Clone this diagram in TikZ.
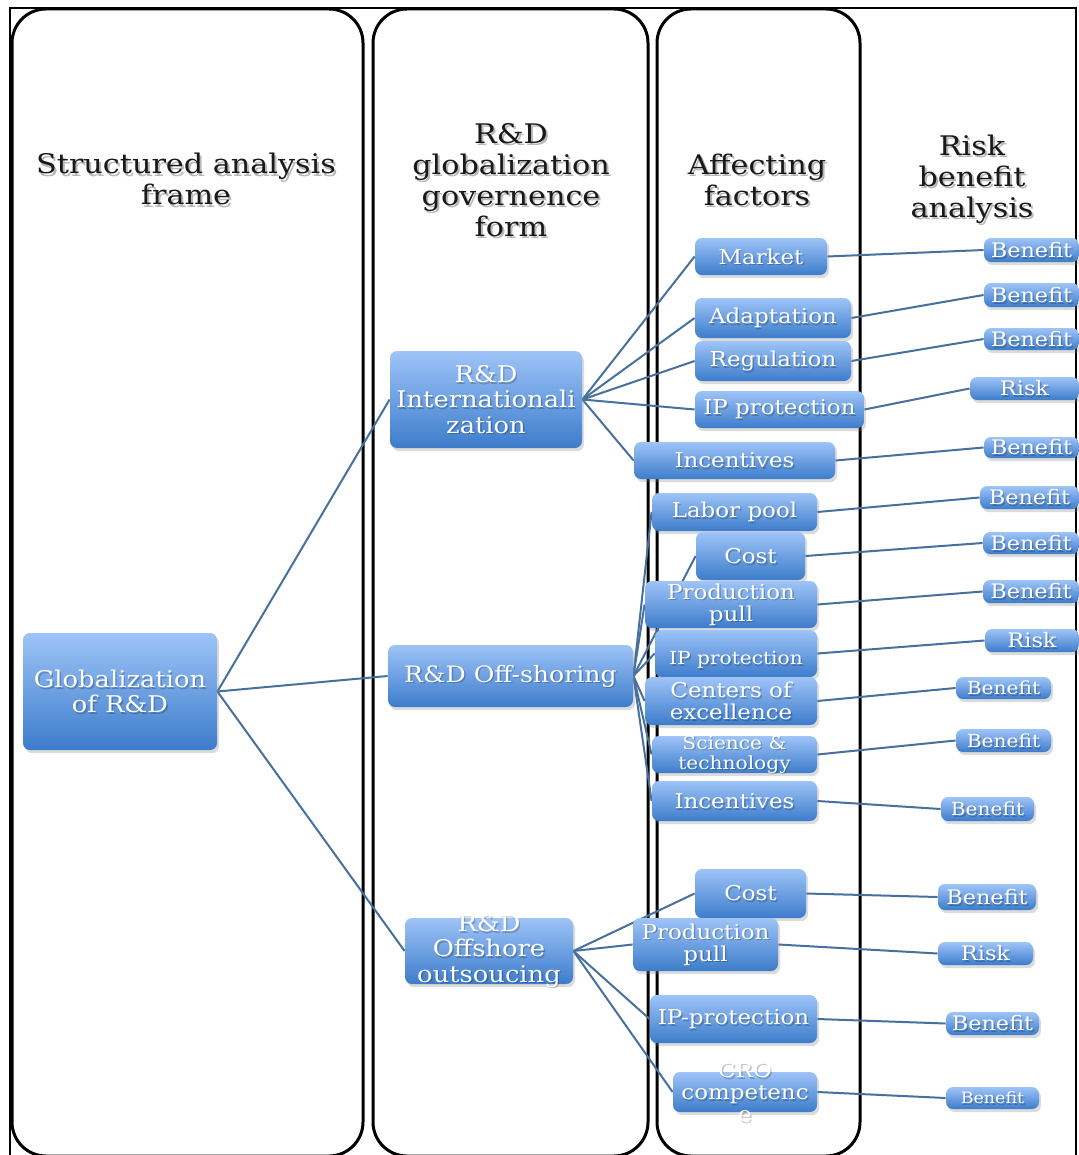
\documentclass[tikz,border=0pt]{standalone}
\usepackage{fontspec}
\setmainfont{DejaVu Serif}[FakeStretch=1.12]
\usetikzlibrary{shadows,backgrounds}
\definecolor{ctop}{HTML}{9EC4F8}
\definecolor{cbot}{HTML}{3D7CCB}
\definecolor{lnk}{HTML}{46719F}
\tikzset{
  boxst/.style={rectangle, rounded corners=3.5pt, inner sep=0pt, top color=ctop, bottom color=cbot, draw=none,
    drop shadow={opacity=0.28, shadow xshift=1pt, shadow yshift=-1.6pt}},
  lbl/.style={text=white, align=center, inner sep=0pt},
  lblsh/.style={text=black, text opacity=0.22, align=center, inner sep=0pt},
  link/.style={draw=lnk, line width=1pt},
  colbox/.style={draw=black, line width=1.5pt, rounded corners=17pt},
  hdr/.style={align=center, inner sep=0pt, font=\fontsize{13.5}{15.5}\selectfont},
  fglob/.style={font=\fontsize{11.5}{12.5}\selectfont},
  fint/.style={font=\fontsize{11.5}{12.6}\selectfont},
  foff/.style={font=\fontsize{11.25}{12.5}\selectfont},
  ff/.style={font=\fontsize{10.25}{11}\selectfont},
  fs/.style={font=\fontsize{9}{10}\selectfont},
  fb/.style={font=\fontsize{10}{11}\selectfont},
  fbs/.style={font=\fontsize{9}{10}\selectfont},
  fbt/.style={font=\fontsize{7.8}{9}\selectfont}
}
\newcommand\bx[7][]{%
  \pgfmathsetmacro\bw{(#5-#3)*0.5}%
  \pgfmathsetmacro\bh{(#6-#4)*0.5}%
  \node[boxst,minimum width=\bw pt,minimum height=\bh pt] (#2) at ({(#3+#5)/2},{(#4+#6)/2}) {};
  \node[lblsh,#1] (#2-s) at ([xshift=0.7pt,yshift=-0.9pt]#2.center) {#7};
  \node[lbl,#1] (#2-t) at (#2.center) {#7};}
\newcommand\hd[4]{%
  \node[hdr,text=black!28] (#1-s) at ([xshift=1pt,yshift=-1.3pt]#2,#3) {#4};
  \node[hdr,text=black!90] (#1) at (#2,#3) {#4};}
\begin{document}
\begin{tikzpicture}[x=0.5pt,y=-0.5pt]
\useasboundingbox (0,0) rectangle (1078,1155);
% frames
\begin{pgfonlayer}{background}
\fill[white] (0,0) rectangle (1078,1155);
\draw[line width=1pt] (10,1170) -- (10,8) -- (1076,8) -- (1076,1170);
\draw[colbox] (12,9) rectangle (363,1156);
\draw[colbox] (373,9) rectangle (648,1156);
\draw[colbox] (657,9) rectangle (860,1156);
\end{pgfonlayer}
% headers
\hd{h1}{186}{179}{Structured analysis\\frame}
\hd{h2}{511}{180}{R\&D\\globalization\\governence\\form}
\hd{h3}{757}{179.5}{Affecting\\factors}
\hd{h4}{972}{179}{Risk\\benefit\\analysis}
% main nodes
\bx[fglob]{glob}{23}{633}{217}{750}{Globalization\\of R\&D}
\bx[fint]{int}{390}{351}{582}{448}{R\&D\\Internationali\\zation}
\bx[foff]{off}{388}{645}{633}{707}{R\&D Off-shoring}
\bx[fint]{outs}{405}{918}{573}{984}{R\&D\\Offshore\\outsoucing}
% group 1 factors
\bx[ff]{a1}{695}{238}{827}{275}{Market}
\bx[ff]{a2}{695}{298}{851}{338}{Adaptation}
\bx[ff]{a3}{695}{341}{851}{381}{Regulation}
\bx[ff]{a4}{695}{391}{864}{428}{IP protection}
\bx[ff]{a5}{634}{442}{835}{479}{Incentives}
% group 1 results
\bx[fb]{r1}{984}{238}{1079}{262}{Benefit}
\bx[fb]{r2}{984}{283}{1079}{307}{Benefit}
\bx[fb]{r3}{984}{328}{1079}{350}{Benefit}
\bx[fb]{r4}{970}{377}{1079}{400}{Risk}
\bx[fb]{r5}{984}{437}{1079}{458}{Benefit}
% group 2 factors
\bx[ff]{b1}{652}{493}{817}{531}{Labor pool}
\bx[ff]{b2}{696}{532}{805}{580}{Cost}
\bx[ff]{b3}{645}{581}{817}{628}{Production\\pull}
\bx[fs,yshift=-3.2pt]{b4}{655}{630}{817}{677}{IP protection}
\bx[ff]{b5}{645}{677}{817}{725}{Centers of\\excellence}
\bx[fs]{b6}{652}{736}{817}{773}{Science \&\\technology}
\bx[ff]{b7}{652}{781}{817}{821}{Incentives}
% group 2 results
\bx[fb]{s1}{980}{486}{1079}{509}{Benefit}
\bx[fb]{s2}{983}{532}{1079}{554}{Benefit}
\bx[fb]{s3}{983}{580}{1079}{603}{Benefit}
\bx[fb]{s4}{985}{629}{1079}{652}{Risk}
\bx[fbs]{s5}{956}{677}{1051}{699}{Benefit}
\bx[fbs]{s6}{956}{729}{1051}{752}{Benefit}
\bx[fbs]{s7}{941}{797}{1034}{821}{Benefit}
% group 3 factors
\bx[ff]{c1}{695}{869}{806}{918}{Cost}
\bx[ff]{c2}{633}{918}{778}{971}{Production\\pull}
\bx[ff]{c3}{650}{995}{817}{1043}{IP-protection}
\bx[ff]{c4}{673}{1072}{817}{1112}{CRO\\competenc\\e}
% group 3 results
\bx[fb]{t1}{938}{884}{1036}{910}{Benefit}
\bx[fb]{t2}{938}{942}{1033}{965}{Risk}
\bx[fb]{t3}{946}{1012}{1039}{1035}{Benefit}
\bx[fbt]{t4}{946}{1087}{1039}{1109}{Benefit}
% connectors
\begin{pgfonlayer}{background}
\foreach \n in {int,off,outs} \draw[link] (glob.east) -- (\n.west);
\foreach \n in {a1,a2,a3,a4,a5} \draw[link] (int.east) -- (\n.west);
\foreach \n in {b1,b2,b3,b4,b5,b6,b7} \draw[link] (off.east) -- (\n.west);
\foreach \n in {c1,c2,c3,c4} \draw[link] (outs.east) -- (\n.west);
\foreach \a/\b in {a1/r1,a2/r2,a3/r3,a4/r4,a5/r5,b1/s1,b2/s2,b3/s3,b4/s4,b5/s5,b6/s6,b7/s7,c1/t1,c2/t2,c3/t3,c4/t4}
  \draw[link] (\a.east) -- (\b.west);
\end{pgfonlayer}
\end{tikzpicture}
\end{document}
